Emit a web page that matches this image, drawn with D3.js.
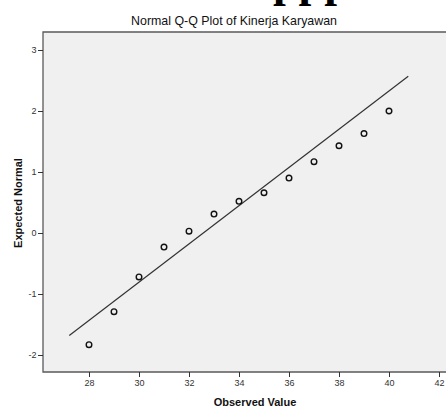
<!DOCTYPE html>
<html><head><meta charset="utf-8">
<script src="https://cdn.jsdelivr.net/npm/d3@7"></script>
<style>html,body{margin:0;padding:0;background:#fff;}svg{display:block;}</style>
</head><body>
<script>
const observed = [28,29,30,31,32,33,34,35,36,37,38,39,40];
const expectedNormal = [-1.83,-1.29,-0.72,-0.23,0.03,0.31,0.52,0.66,0.90,1.17,1.43,1.63,2.00];
const lineX = [27.21, 40.77];
const lineY = [-1.68, 2.57];
const xTicks = [28,30,32,34,36,38,40,42];
const yTicks = [-2,-1,0,1,2,3];
const title = "Normal Q-Q Plot of Kinerja Karyawan";
const xLabel = "Observed Value";
const yLabel = "Expected Normal";

(function(){
const W = 446, H = 408;
const svg = d3.select("body").append("svg").attr("width", W).attr("height", H);

// clipped document text above chart
svg.append("text").attr("x", 273).attr("y", -4)
  .attr("font-family", "Liberation Serif").attr("font-weight", "bold")
  .attr("font-size", 46).attr("fill", "#000").text("ppp");

const x = d3.scaleLinear().domain([28, 42]).range([89, 439]);
const y = d3.scaleLinear().domain([-2, 3]).range([355, 50]);

const pL = 43, pT = 32, pB = 372, pR = 448;
svg.append("rect").attr("x", pL).attr("y", pT).attr("width", pR - pL).attr("height", pB - pT)
  .attr("fill", "#f0f0f0");
svg.append("path").attr("d", `M${pR},${pT}H${pL}V${pB}H${pR}`)
  .attr("fill", "none").attr("stroke", "#5a5a5a").attr("stroke-width", 1.3);

const fmt = d => String(d);
// axes
const xAxis = svg.append("g").attr("transform", `translate(0,${pB})`)
  .call(d3.axisBottom(x).tickValues(xTicks).tickFormat(fmt).tickSize(5).tickPadding(3));
const yAxis = svg.append("g").attr("transform", `translate(${pL},0)`)
  .call(d3.axisLeft(y).tickValues(yTicks).tickFormat(fmt).tickSize(5).tickPadding(1.5));
[xAxis, yAxis].forEach(g => {
  g.select(".domain").remove();
  g.selectAll(".tick line").attr("stroke", "#333").attr("stroke-width", 1);
  g.selectAll(".tick text").attr("font-family", "Liberation Sans Narrow, Liberation Sans, Arial")
    .attr("font-size", 9).attr("fill", "#333");
});

// reference line
svg.append("line")
  .attr("x1", x(lineX[0])).attr("y1", y(lineY[0]))
  .attr("x2", x(lineX[1])).attr("y2", y(lineY[1]))
  .attr("stroke", "#333").attr("stroke-width", 1.2);

// points
svg.append("g").selectAll("circle").data(observed).join("circle")
  .attr("cx", d => x(d)).attr("cy", (d, i) => y(expectedNormal[i]))
  .attr("r", 2.8).attr("fill", "none").attr("stroke", "#111").attr("stroke-width", 1.4);

// titles
svg.append("text").attr("x", 234).attr("y", 25).attr("text-anchor", "middle")
  .attr("font-family", "Liberation Sans, Arial").attr("font-size", 12.4).attr("fill", "#111").text(title);
svg.append("text").attr("x", 255).attr("y", 406).attr("text-anchor", "middle")
  .attr("font-family", "Liberation Sans, Arial").attr("font-weight", "bold").attr("font-size", 11)
  .attr("fill", "#111").text(xLabel);
svg.append("text").attr("transform", "translate(22,203) rotate(-90)").attr("text-anchor", "middle")
  .attr("font-family", "Liberation Sans, Arial").attr("font-weight", "bold").attr("font-size", 11)
  .attr("fill", "#111").text(yLabel);
})();
</script>
</body></html>
